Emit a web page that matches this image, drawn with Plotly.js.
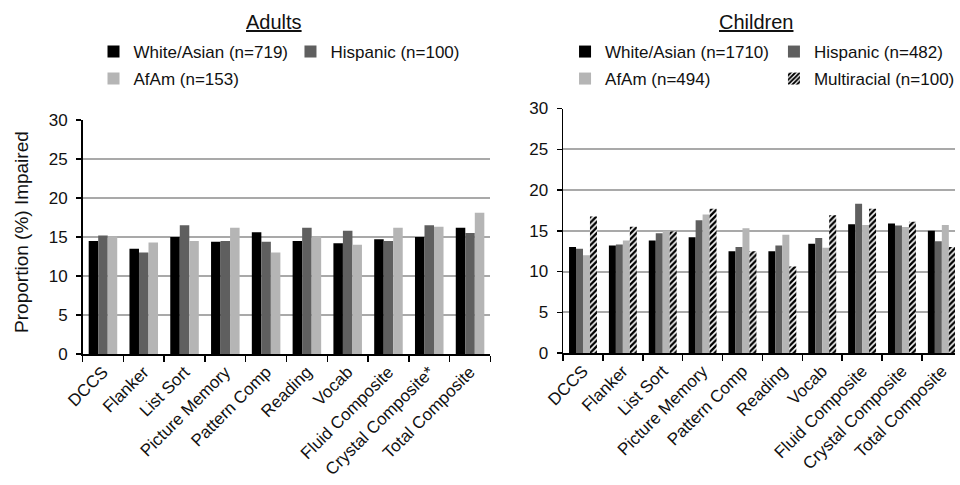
<!DOCTYPE html>
<html>
<head>
<meta charset="utf-8">
<script src="https://cdn.plot.ly/plotly-3.0.1.min.js"></script>
<style>html,body{margin:0;padding:0;background:#fff;}#chart{width:960px;height:485px;}</style>
</head>
<body>
<div id="chart"></div>
<script>
// ---- Data ----
const adultCategories = ["DCCS","Flanker","List Sort","Picture Memory","Pattern Comp","Reading","Vocab","Fluid Composite","Crystal Composite*","Total Composite"];
const childCategories = ["DCCS","Flanker","List Sort","Picture Memory","Pattern Comp","Reading","Vocab","Fluid Composite","Crystal Composite","Total Composite"];

const adultWhiteAsian = [14.5, 13.5, 15.0, 14.4, 15.6, 14.5, 14.2, 14.7, 15.0, 16.2];
const adultHispanic   = [15.2, 13.0, 16.5, 14.5, 14.4, 16.2, 15.8, 14.5, 16.5, 15.5];
const adultAfAm       = [15.1, 14.3, 14.5, 16.2, 13.0, 15.1, 14.0, 16.2, 16.3, 18.1];

const childWhiteAsian = [13.0, 13.2, 13.8, 14.2, 12.5, 12.5, 13.4, 15.8, 15.9, 15.0];
const childHispanic   = [12.8, 13.3, 14.7, 16.3, 13.0, 13.2, 14.1, 18.3, 15.65, 13.7];
const childAfAm       = [12.0, 13.8, 15.0, 17.0, 15.3, 14.5, 12.9, 15.7, 15.45, 15.7];
const childMulti      = [16.75, 15.5, 14.9, 17.7, 12.5, 10.6, 16.9, 17.7, 16.1, 13.0];

const adultNames = ["White/Asian (n=719)", "Hispanic (n=100)", "AfAm (n=153)"];
const childNames = ["White/Asian (n=1710)", "Hispanic (n=482)", "AfAm (n=494)", "Multiracial (n=100)"];

const yTicks = [0, 5, 10, 15, 20, 25, 30];

// ---- Styles ----
const W = 960, H = 485;
const FONT = "Liberation Sans, Arial, sans-serif";
const cBlack = "#000000", cDark = "#5f5f5f", cLight = "#b5b5b5";
const px = v => v / W;
const py = v => 1 - v / H;

const traces = [
  {type:"bar", name:adultNames[0], x:adultCategories, y:adultWhiteAsian, xaxis:"x", yaxis:"y", marker:{color:cBlack}, legend:"legend"},
  {type:"bar", name:adultNames[1], x:adultCategories, y:adultHispanic, xaxis:"x", yaxis:"y", marker:{color:cDark}, legend:"legend2"},
  {type:"bar", name:adultNames[2], x:adultCategories, y:adultAfAm, xaxis:"x", yaxis:"y", marker:{color:cLight}, legend:"legend3"},
  {type:"bar", name:childNames[0], x:childCategories, y:childWhiteAsian, xaxis:"x2", yaxis:"y2", marker:{color:cBlack}, legend:"legend4"},
  {type:"bar", name:childNames[1], x:childCategories, y:childHispanic, xaxis:"x2", yaxis:"y2", marker:{color:cDark}, legend:"legend5"},
  {type:"bar", name:childNames[2], x:childCategories, y:childAfAm, xaxis:"x2", yaxis:"y2", marker:{color:cLight}, legend:"legend6"},
  {type:"bar", name:childNames[3], x:childCategories, y:childMulti, xaxis:"x2", yaxis:"y2",
    marker:{color:"#ffffff", pattern:{shape:"/", fgcolor:"#000000", bgcolor:"#ffffff", size:4, solidity:0.6}}, legend:"legend7"}
];
traces.forEach(t => { t.hoverinfo = "skip"; });

const yaxisBase = {
  range:[0,30], tickvals:yTicks, ticks:"outside", ticklen:5, tickcolor:"#000", tickwidth:1.5,
  showline:true, linecolor:"#000", linewidth:1.5, showgrid:true, gridcolor:"#a9a9a9", gridwidth:2,
  zeroline:false, tickfont:{family:FONT, size:17, color:"#111"}, ticklabelstandoff:5,
  automargin:false, fixedrange:true
};
const xaxisBase = {
  type:"category", tickangle:-45, tickson:"boundaries", ticks:"outside", ticklen:6, tickcolor:"#000", tickwidth:1.5,
  showline:true, linecolor:"#000", linewidth:1.5, showgrid:false, zeroline:false,
  tickfont:{family:FONT, size:17, color:"#111"}, automargin:false, fixedrange:true
};

function legendAt(xpx, ypx) {
  return {x:px(xpx), y:py(ypx), xanchor:"left", yanchor:"middle", orientation:"h",
    bgcolor:"rgba(0,0,0,0)", borderwidth:0, font:{family:FONT, size:17, color:"#111"}, itemclick:false, itemdoubleclick:false};
}

const layout = {
  width:W, height:H, margin:{l:0, r:0, t:0, b:0},
  paper_bgcolor:"#fff", plot_bgcolor:"#fff",
  barmode:"group",
  font:{family:FONT, color:"#111"},
  xaxis: Object.assign({}, xaxisBase, {domain:[px(83), px(493)], anchor:"y", range:[-0.5, 9.5]}),
  yaxis: Object.assign({}, yaxisBase, {domain:[py(354), py(120)], anchor:"x"}),
  xaxis2: Object.assign({}, xaxisBase, {domain:[px(566), 1], anchor:"y2", range:[-0.5, 9.33]}),
  yaxis2: Object.assign({}, yaxisBase, {domain:[py(353), py(108.5)], anchor:"x2"}),
  bargap:0.3,
  legend: legendAt(94, 52),
  legend2: legendAt(292, 52),
  legend3: legendAt(94, 79),
  legend4: legendAt(568, 52),
  legend5: legendAt(778, 52),
  legend6: legendAt(568, 79),
  legend7: legendAt(778, 79),
  showlegend:true,
  annotations:[
    {text:'<span style="text-decoration:underline">Adults</span>', x:px(275), y:py(22), xref:"paper", yref:"paper",
      xanchor:"center", yanchor:"middle", showarrow:false, font:{family:FONT, size:20, color:"#111"}},
    {text:'<span style="text-decoration:underline">Children</span>', x:px(760), y:py(22), xref:"paper", yref:"paper",
      xanchor:"center", yanchor:"middle", showarrow:false, font:{family:FONT, size:20, color:"#111"}},
    {text:"Proportion (%) Impaired", x:px(21), y:py(232), xref:"paper", yref:"paper", textangle:-90,
      xanchor:"center", yanchor:"middle", showarrow:false, font:{family:FONT, size:19, color:"#111"}}
  ]
};

Plotly.newPlot("chart", traces, layout, {staticPlot:true, displayModeBar:false});
</script>
</body>
</html>
